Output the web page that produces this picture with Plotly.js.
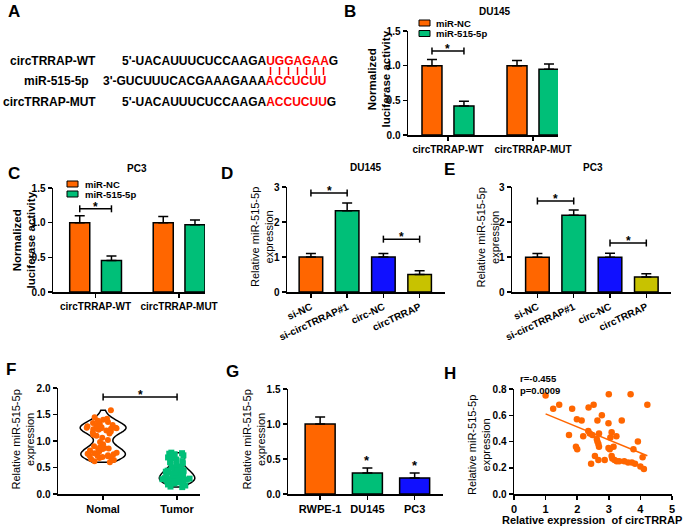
<!DOCTYPE html>
<html><head><meta charset="utf-8">
<script src="https://cdn.plot.ly/plotly-3.0.1.min.js"></script>
<style>html,body{margin:0;padding:0;background:#fff;}#chart{width:685px;height:527px;}</style>
</head><body><div id="chart"></div>
<script>
// ---------------- Data ----------------
const lucGroups = ['circTRRAP-WT', 'circTRRAP-MUT'];
const du145LucNC = [1.00, 1.00];
const du145LucNCErr = [0.09, 0.075];
const du145Luc515 = [0.42, 0.95];
const du145Luc515Err = [0.065, 0.075];
const pc3LucNC = [1.00, 1.00];
const pc3LucNCErr = [0.10, 0.09];
const pc3Luc515 = [0.455, 0.97];
const pc3Luc515Err = [0.065, 0.07];

const kdGroups = ['si-NC', 'si-circTRRAP#1', 'circ-NC', 'circTRRAP'];
const du145Expr = [1.00, 2.32, 1.00, 0.50];
const du145ExprErr = [0.10, 0.22, 0.10, 0.11];
const pc3Expr = [0.99, 2.19, 0.99, 0.43];
const pc3ExprErr = [0.11, 0.15, 0.12, 0.09];

const tissueGroups = ['Nomal', 'Tumor'];
const tissueNormal = [1.58,1.45,1.42,1.40,1.38,1.36,1.34,1.32,1.30,1.29,1.28,1.27,1.26,1.25,1.25,1.24,1.24,1.23,1.22,1.21,1.20,1.18,1.16,1.14,1.12,1.10,1.06,1.02,0.98,0.94,0.90,0.88,0.87,0.86,0.85,0.84,0.82,0.80,0.78,0.77,0.76,0.75,0.74,0.73,0.72,0.72,0.71,0.70,0.69,0.68,0.66,0.64,0.62,0.60];
const tissueTumor = [0.78,0.77,0.76,0.75,0.73,0.71,0.69,0.67,0.65,0.62,0.60,0.58,0.55,0.52,0.50,0.48,0.46,0.45,0.44,0.43,0.42,0.41,0.40,0.39,0.38,0.37,0.36,0.35,0.34,0.33,0.32,0.31,0.30,0.30,0.29,0.28,0.28,0.27,0.26,0.25,0.25,0.24,0.23,0.22,0.21,0.20,0.18,0.16,0.14,0.13];

const cellLines = ['RWPE-1', 'DU145', 'PC3'];
const cellExpr = [1.00, 0.30, 0.23];
const cellExprErr = [0.10, 0.07, 0.07];

const corrCirc = [1.00,1.24,1.43,1.74,1.84,1.99,1.96,2.00,2.14,2.19,2.36,2.35,2.40,2.44,2.52,2.48,2.56,2.62,2.64,2.67,2.64,2.69,2.69,2.67,2.78,2.87,3.00,2.99,2.99,3.03,3.05,3.09,3.15,3.09,3.11,3.18,3.24,3.25,3.33,3.41,3.49,3.61,3.69,3.73,3.78,3.83,3.92,4.00,4.07,4.11,4.22];
const corrMiR  = [0.75,0.65,0.68,0.45,0.65,0.57,0.36,0.34,0.56,0.44,0.66,0.48,0.46,0.23,0.68,0.45,0.29,0.42,0.40,0.38,0.56,0.46,0.36,0.26,0.60,0.26,0.76,0.54,0.35,0.34,0.43,0.47,0.36,0.29,0.27,0.26,0.44,0.25,0.25,0.56,0.25,0.24,0.76,0.24,0.34,0.23,0.40,0.21,0.28,0.19,0.68];
const corrStats = ['r=-0.455', 'p=0.0009'];

// ---------------- Style ----------------
const FF = 'Liberation Sans, Arial, sans-serif';
const ORANGE = '#ff6600', GREEN = '#00bf78', BLUE = '#1010ff', OLIVE = '#c8c200';
const W = 685, H = 527;
const px = v => v / W, py = v => 1 - v / H;

function barTrace(x, y, err, color, xa, ya, width, offset) {
  const t = {type: 'bar', x: x, y: y, xaxis: xa, yaxis: ya, width: width,
    marker: {color: color, line: {color: '#000', width: 1.5}},
    error_y: {type: 'data', array: err, arrayminus: err.map(() => 0), symmetric: false,
      color: '#000', thickness: 1.5, width: 5},
    showlegend: false, hoverinfo: 'skip'};
  if (offset !== undefined) t.offset = offset;
  return t;
}

const traces = [
  // B
  barTrace(lucGroups, du145LucNC, du145LucNCErr, ORANGE, 'x', 'y', 0.235, -0.3055),
  barTrace(lucGroups, du145Luc515, du145Luc515Err, GREEN, 'x', 'y', 0.235, 0.0705),
  // C
  barTrace(lucGroups, pc3LucNC, pc3LucNCErr, ORANGE, 'x2', 'y2', 0.24, -0.31),
  barTrace(lucGroups, pc3Luc515, pc3Luc515Err, GREEN, 'x2', 'y2', 0.24, 0.07),
  // D
  barTrace(kdGroups, du145Expr, du145ExprErr, [ORANGE, GREEN, BLUE, OLIVE], 'x3', 'y3', 0.65),
  // E
  barTrace(kdGroups, pc3Expr, pc3ExprErr, [ORANGE, GREEN, BLUE, OLIVE], 'x4', 'y4', 0.65),
  // F
  {type: 'violin', x: tissueNormal.map(() => tissueGroups[0]), y: tissueNormal, xaxis: 'x5', yaxis: 'y5',
    points: 'all', pointpos: 0, jitter: 0.85, spanmode: 'hard', bandwidth: 0.085, width: 0.62,
    line: {color: '#000', width: 1.5}, fillcolor: 'rgba(255,255,255,0)',
    marker: {color: ORANGE, size: 6, line: {width: 0}}, box: {visible: false}, meanline: {visible: false},
    showlegend: false, hoverinfo: 'skip'},
  {type: 'violin', x: tissueTumor.map(() => tissueGroups[1]), y: tissueTumor, xaxis: 'x5', yaxis: 'y5',
    points: 'all', pointpos: 0, jitter: 0.85, spanmode: 'hard', bandwidth: 0.065, width: 0.48,
    line: {color: '#000', width: 1.5}, fillcolor: 'rgba(255,255,255,0)',
    marker: {color: GREEN, size: 6, symbol: 'square', line: {width: 0}}, box: {visible: false}, meanline: {visible: false},
    showlegend: false, hoverinfo: 'skip'},
  // G
  barTrace(cellLines, cellExpr, cellExprErr, [ORANGE, GREEN, BLUE], 'x6', 'y6', 0.635),
  // H
  {type: 'scatter', mode: 'markers', x: corrCirc, y: corrMiR, xaxis: 'x7', yaxis: 'y7',
    marker: {color: ORANGE, size: 6.5}, showlegend: false, hoverinfo: 'skip'}
];

// regression line for H computed from the data
(function () {
  const n = corrCirc.length;
  const mx = corrCirc.reduce((a, b) => a + b, 0) / n;
  const my = corrMiR.reduce((a, b) => a + b, 0) / n;
  let sxy = 0, sxx = 0;
  for (let i = 0; i < n; i++) { sxy += (corrCirc[i] - mx) * (corrMiR[i] - my); sxx += (corrCirc[i] - mx) ** 2; }
  const b = sxy / sxx, a = my - b * mx;
  const xmin = Math.min(...corrCirc), xmax = Math.max(...corrCirc);
  traces.push({type: 'scatter', mode: 'lines', x: [xmin, xmax], y: [a + b * xmin, a + b * xmax],
    xaxis: 'x7', yaxis: 'y7', line: {color: ORANGE, width: 1.5}, showlegend: false, hoverinfo: 'skip'});
})();

const tickFont = {family: FF, size: 10, color: '#000', weight: 'bold'};
function yAx(domain, range, dtick, fmt, anchor) {
  return {domain: domain, range: range, dtick: dtick, tick0: 0, tickformat: fmt, anchor: anchor,
    showline: true, linewidth: 1.5, linecolor: '#000', ticks: 'outside', ticklen: 4, tickwidth: 1.5,
    tickcolor: '#000', showgrid: false, zeroline: false, tickfont: tickFont, fixedrange: true};
}
function xAx(domain, range, anchor, extra) {
  return Object.assign({domain: domain, range: range, anchor: anchor, type: 'category',
    showline: true, linewidth: 1.5, linecolor: '#000', ticks: 'outside', ticklen: 4, tickwidth: 1.5,
    tickcolor: '#000', showgrid: false, zeroline: false, tickfont: tickFont, fixedrange: true}, extra || {});
}

const layout = {
  width: W, height: H, margin: {l: 0, r: 0, t: 0, b: 0}, paper_bgcolor: '#fff', plot_bgcolor: 'rgba(0,0,0,0)',
  barmode: 'overlay', violinmode: 'overlay', showlegend: false,
  font: {family: FF, color: '#000'},
  // B
  xaxis: xAx([px(408), px(558)], [-0.47, 1.294], 'y'),
  yaxis: yAx([py(135), py(31)], [0, 1.5], 0.5, '.1f', 'x'),
  // C
  xaxis2: xAx([px(53), px(205)], [-0.51, 1.31], 'y2'),
  yaxis2: yAx([py(292), py(188)], [0, 1.5], 0.5, '.1f', 'x2'),
  // D
  xaxis3: xAx([px(287), px(445)], [-0.66, 3.70], 'y3', {tickangle: -25}),
  yaxis3: yAx([py(292), py(187)], [0, 3], 1, 'd', 'x3'),
  // E
  xaxis4: xAx([px(512), px(671)], [-0.70, 3.68], 'y4', {tickangle: -25}),
  yaxis4: yAx([py(292), py(187)], [0, 3], 1, 'd', 'x4'),
  // F
  xaxis5: xAx([px(58), px(200)], [-0.61, 1.31], 'y5', {tickfont: {family: FF, size: 11, color: '#000', weight: 'bold'}}),
  yaxis5: yAx([py(494), py(388)], [0, 2], 0.5, '.1f', 'x5'),
  // G
  xaxis6: xAx([px(288), px(443)], [-0.68, 2.60], 'y6', {tickfont: {family: FF, size: 11, color: '#000', weight: 'bold'}}),
  yaxis6: yAx([py(494), py(389)], [0, 1.5], 0.5, '.1f', 'x6'),
  // H
  xaxis7: {domain: [px(514), px(672)], range: [0, 5], dtick: 1, anchor: 'y7', showline: true, linewidth: 1.5,
    linecolor: '#000', ticks: 'outside', ticklen: 4, tickwidth: 1.5, tickcolor: '#000', showgrid: false,
    zeroline: false, tickfont: {family: FF, size: 11, color: '#000', weight: 'bold'}, fixedrange: true},
  yaxis7: yAx([py(494), py(389)], [0, 0.8], 0.2, '.1f', 'x7'),
  shapes: [],
  annotations: []
};

const S = layout.shapes, A = layout.annotations;
function txt(x, y, text, size, opts) {
  A.push(Object.assign({xref: 'paper', yref: 'paper', x: px(x), y: py(y), text: text, showarrow: false,
    font: {family: FF, size: size, color: '#000', weight: 'bold'}, xanchor: 'center', yanchor: 'middle'}, opts || {}));
}
function bracket(xa, ya, x0, x1, y) {
  const ln = {color: '#000', width: 1.5};
  S.push({type: 'line', xref: xa, yref: ya, x0: x0, x1: x1, y0: y, y1: y, line: ln});
  S.push({type: 'line', xref: xa, yref: ya, ysizemode: 'pixel', yanchor: y, x0: x0, x1: x0, y0: -3.5, y1: 3.5, line: ln});
  S.push({type: 'line', xref: xa, yref: ya, ysizemode: 'pixel', yanchor: y, x0: x1, x1: x1, y0: -3.5, y1: 3.5, line: ln});
  A.push({xref: xa, yref: ya, x: (x0 + x1) / 2, y: y, text: '*', showarrow: false, yanchor: 'bottom', yshift: -7,
    font: {family: FF, size: 12, color: '#000', weight: 'bold'}});
}
function star(xa, ya, x, y) {
  A.push({xref: xa, yref: ya, x: x, y: y, text: '*', showarrow: false, yanchor: 'bottom', yshift: -2,
    font: {family: FF, size: 13, color: '#000', weight: 'bold'}});
}
function legendBox(x0, y0, color) {
  S.push({type: 'rect', xref: 'paper', yref: 'paper', x0: px(x0), x1: px(x0 + 11), y0: py(y0), y1: py(y0 + 6),
    fillcolor: color, line: {color: '#000', width: 1}});
}

// Panel letters
txt(14, 11, 'A', 17); txt(350, 11, 'B', 17); txt(14, 173, 'C', 17); txt(227, 173, 'D', 17);
txt(449, 170, 'E', 17); txt(11, 370, 'F', 17); txt(232, 371, 'G', 17); txt(450, 373, 'H', 17);

// Panel A: sequences
txt(8, 61, 'circTRRAP-WT', 12, {xanchor: 'left'});
txt(22, 81, 'miR-515-5p', 12, {xanchor: 'left'});
txt(1, 102, 'circTRRAP-MUT', 12, {xanchor: 'left'});
txt(120, 61, "5'-UACAUUUCUCCAAGA<span style='color:#ff0000'>UGGAGAA</span>G", 12, {xanchor: 'left'});
txt(101, 81, "3'-GUCUUUCACGAAAGAAA<span style='color:#ff0000'>ACCUCUU</span>", 12, {xanchor: 'left'});
txt(120, 102, "5'-UACAUUUCUCCAAGA<span style='color:#ff0000'>ACCUCUU</span>G", 12, {xanchor: 'left'});
[270.5, 279.5, 288.5, 297.5, 306.5, 315, 323.5].forEach(x => {
  S.push({type: 'line', xref: 'paper', yref: 'paper', x0: px(x), x1: px(x), y0: py(67), y1: py(75),
    line: {color: '#ff0000', width: 1.5}});
});

// Panel B
txt(495, 11, 'DU145', 10);
legendBox(419, 20, ORANGE); legendBox(419, 30.5, GREEN);
txt(434, 23, 'miR-NC', 9.5, {xanchor: 'left'});
txt(434, 33.5, 'miR-515-5p', 9.5, {xanchor: 'left'});
txt(378.5, 79, 'Normalized<br>luciferase activity', 11.5, {textangle: -90});
bracket('x', 'y', -0.188, 0.188, 1.21);

// Panel C
txt(137, 168, 'PC3', 10);
legendBox(67, 181, ORANGE); legendBox(67, 191, GREEN);
txt(83, 184, 'miR-NC', 9.5, {xanchor: 'left'});
txt(83, 194, 'miR-515-5p', 9.5, {xanchor: 'left'});
txt(24.5, 240, 'Normalized<br>luciferase activity', 11.5, {textangle: -90});
bracket('x2', 'y2', -0.19, 0.19, 1.20);

// Panel D
txt(366, 167, 'DU145', 10);
txt(262, 237, 'Relative miR-515-5p<br>expression', 11, {textangle: -90, font: {family: FF, size: 11, color: '#000', weight: 'normal'}});
bracket('x3', 'y3', 0, 1, 2.83);
bracket('x3', 'y3', 2, 3, 1.51);

// Panel E
txt(593, 167, 'PC3', 10);
txt(487.5, 238, 'Relative miR-515-5p<br>expression', 11, {textangle: -90, font: {family: FF, size: 11, color: '#000', weight: 'normal'}});
bracket('x4', 'y4', 0, 1, 2.60);
bracket('x4', 'y4', 2, 3, 1.40);

// Panel F
txt(22.5, 440, 'Relative miR-515-5p<br>expression', 11, {textangle: -90, font: {family: FF, size: 11, color: '#000', weight: 'normal'}});
bracket('x5', 'y5', 0, 1, 1.83);

// Panel G
txt(253.5, 440, 'Relative miR-515-5p<br>expression', 11, {textangle: -90, font: {family: FF, size: 11, color: '#000', weight: 'normal'}});
star('x6', 'y6', 1, cellExpr[1] + cellExprErr[1]);
star('x6', 'y6', 2, cellExpr[2] + cellExprErr[2]);

// Panel H
txt(479, 445, 'Relative miR-515-5p<br>expression', 11, {textangle: -90, font: {family: FF, size: 11, color: '#000', weight: 'normal'}});
txt(518, 378, corrStats[0], 9.5, {xanchor: 'left'});
txt(518, 390, corrStats[1], 9.5, {xanchor: 'left'});
txt(684, 520, 'Relative expression&nbsp; of circTRRAP', 11, {xanchor: 'right'});

Plotly.newPlot('chart', traces, layout, {staticPlot: true, displayModeBar: false});
</script>
</body></html>
